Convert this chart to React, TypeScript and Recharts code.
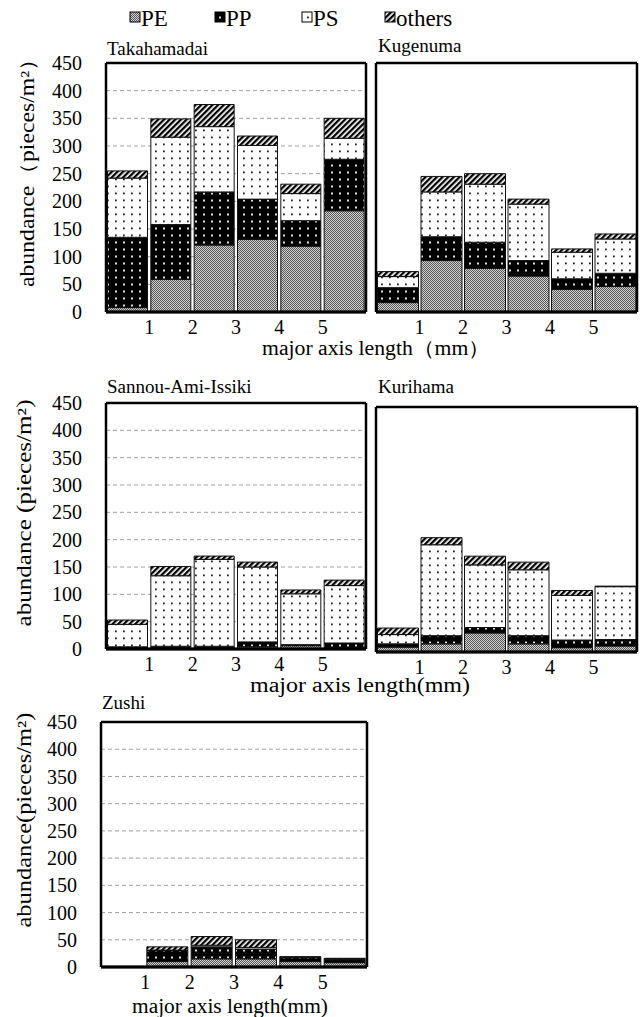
import { Bar, BarChart, CartesianGrid, ReferenceLine, XAxis, YAxis } from 'recharts'

const SERIF = "'Liberation Serif', 'Times New Roman', serif"

const sizeClasses = ['<1', '1-2', '2-3', '3-4', '4-5', '>5']
// labels printed at the class boundaries (right edge of each class except the last)
const boundaryLabels = ['1', '2', '3', '4', '5']
const abundanceTicks = [0, 50, 100, 150, 200, 250, 300, 350, 400, 450]

const takahamadaiPE = [8, 59, 121, 131, 119, 183]
const takahamadaiPP = [127, 99, 96, 73, 46, 93]
const takahamadaiPS = [107, 158, 118, 97, 49, 38]
const takahamadaiOthers = [13, 33, 40, 17, 17, 36]

const kugenumaPE = [17, 93, 79, 65, 41, 46]
const kugenumaPP = [27, 43, 47, 28, 19, 24]
const kugenumaPS = [20, 81, 105, 102, 48, 62]
const kugenumaOthers = [9, 28, 19, 9, 6, 9]

const sannouPE = [2, 2, 2, 4, 6, 3]
const sannouPP = [2, 3, 3, 9, 2, 8]
const sannouPS = [41, 129, 159, 137, 93, 105]
const sannouOthers = [8, 17, 6, 9, 7, 10]

const kurihamaPE = [9, 15, 35, 15, 8, 11]
const kurihamaPP = [6, 15, 10, 15, 14, 12]
const kurihamaPS = [17, 167, 115, 121, 82, 97]
const kurihamaOthers = [12, 13, 16, 14, 9, 1]

const zushiPE = [0, 10, 15, 15, 10, 8]
const zushiPP = [1, 20, 22, 18, 7, 6]
const zushiPS = [0, 1, 3, 3, 1, 1]
const zushiOthers = [0, 6, 16, 14, 1, 1]

const series = [
  { key: 'PE', pattern: 'pat-pe' },
  { key: 'PP', pattern: 'pat-pp' },
  { key: 'PS', pattern: 'pat-ps' },
  { key: 'others', pattern: 'pat-others' },
]

function rowsOf(pe: number[], pp: number[], ps: number[], others: number[]) {
  return sizeClasses.map((size, i) => ({ size, PE: pe[i], PP: pp[i], PS: ps[i], others: others[i] }))
}

const frameLine = { stroke: '#000', strokeWidth: 2.5 }
const tickStyle = { fill: '#000', fontSize: 20, fontFamily: SERIF }

// draws the label half a band to the right, i.e. on the boundary between classes
function BoundaryTick(props: any) {
  const { x, y, payload, index, width } = props
  const label = boundaryLabels[index]
  if (label === undefined) return null
  const half = payload?.offset ?? (width ? width / sizeClasses.length / 2 : 0)
  return (
    <text x={x + half} y={y + 14} textAnchor="middle" fill="#000" fontSize={20} fontFamily={SERIF}>
      {label}
    </text>
  )
}

type PanelProps = {
  rows: ReturnType<typeof rowsOf>
  left: number
  top: number
  width: number
  height: number
  axisWidth: number
  showTicks: boolean
  right: number
}

function Panel({ rows, left, top, width, height, axisWidth, showTicks, right }: PanelProps) {
  return (
    <div style={{ position: 'absolute', left, top }}>
      <BarChart
        width={width}
        height={height}
        data={rows}
        margin={{ top: 12, right, bottom: 0, left: 0 }}
        barCategoryGap={1.5}
      >
        <CartesianGrid vertical={false} stroke="#a0a0a0" strokeDasharray="4 3" />
        <XAxis
          dataKey="size"
          interval={0}
          height={30}
          tickLine={false}
          axisLine={frameLine}
          tick={<BoundaryTick />}
        />
        <XAxis
          xAxisId="top"
          dataKey="size"
          orientation="top"
          height={1}
          tick={false}
          tickLine={false}
          axisLine={frameLine}
        />
        <YAxis
          domain={[0, 450]}
          ticks={abundanceTicks}
          interval={0}
          width={axisWidth}
          tick={showTicks ? tickStyle : false}
          tickLine={false}
          tickSize={0}
          tickMargin={24}
          axisLine={frameLine}
        />
        <YAxis
          yAxisId="r"
          orientation="right"
          domain={[0, 450]}
          width={1}
          tick={false}
          tickLine={false}
          axisLine={frameLine}
        />
        {series.map((s) => (
          <Bar
            key={s.key}
            dataKey={s.key}
            stackId="a"
            fill={`url(#${s.pattern})`}
            stroke="#111"
            strokeWidth={1}
            isAnimationActive={false}
          />
        ))}
        <ReferenceLine y={0} stroke="#000" strokeWidth={3} />
      </BarChart>
    </div>
  )
}

function Patterns() {
  return (
    <svg width={0} height={0} style={{ position: 'absolute' }}>
      <defs>
        <pattern id="pat-pe" width={2} height={2} patternUnits="userSpaceOnUse">
          <rect width={2} height={2} fill="#d4d4d4" />
          <rect width={1} height={1} fill="#555" />
          <rect x={1} y={1} width={1} height={1} fill="#555" />
        </pattern>
        <pattern id="pat-pp" width={8} height={7} patternUnits="userSpaceOnUse">
          <rect width={8} height={7} fill="#000" />
          <rect x={3} y={2.5} width={2} height={2} fill="#ddd" />
        </pattern>
        <pattern id="pat-ps" width={8} height={7} patternUnits="userSpaceOnUse">
          <rect width={8} height={7} fill="#fff" />
          <rect x={3} y={2.5} width={1.8} height={1.8} fill="#222" />
        </pattern>
        <pattern id="pat-others" width={4} height={4} patternUnits="userSpaceOnUse" patternTransform="rotate(45)">
          <rect width={4} height={4} fill="#fff" />
          <rect width={2.3} height={4} fill="#000" />
        </pattern>
      </defs>
    </svg>
  )
}

const legendItems = [
  { label: 'PE', pattern: 'pat-pe', x: 130 },
  { label: 'PP', pattern: 'pat-pp', x: 215 },
  { label: 'PS', pattern: 'pat-ps', x: 302 },
  { label: 'others', pattern: 'pat-others', x: 385 },
]

function VLabel({ cx, cy, length, text }: { cx: number; cy: number; length: number; text: string }) {
  return (
    <text
      x={cx}
      y={cy}
      transform={`rotate(-90 ${cx} ${cy})`}
      textAnchor="middle"
      dominantBaseline="central"
      textLength={length}
      lengthAdjust="spacingAndGlyphs"
      fontSize={20}
    >
      {text}
    </text>
  )
}

export default function App() {
  return (
    <div style={{ position: 'absolute', left: 0, top: 0, width: 640, height: 1017, background: '#fff', fontFamily: SERIF }}>
      <Patterns />
      <Panel rows={rowsOf(takahamadaiPE, takahamadaiPP, takahamadaiPS, takahamadaiOthers)} left={0} top={50} width={370} height={292} axisWidth={106} showTicks right={3} />
      <Panel rows={rowsOf(kugenumaPE, kugenumaPP, kugenumaPS, kugenumaOthers)} left={370} top={50} width={270} height={292} axisWidth={6} showTicks={false} right={2} />
      <Panel rows={rowsOf(sannouPE, sannouPP, sannouPS, sannouOthers)} left={0} top={390} width={370} height={289} axisWidth={106} showTicks right={3} />
      <Panel rows={rowsOf(kurihamaPE, kurihamaPP, kurihamaPS, kurihamaOthers)} left={370} top={394} width={270} height={288} axisWidth={6} showTicks={false} right={2} />
      <Panel rows={rowsOf(zushiPE, zushiPP, zushiPS, zushiOthers)} left={0} top={709} width={370} height={288} axisWidth={101} showTicks right={2} />

      <svg width={640} height={1017} style={{ position: 'absolute', left: 0, top: 0, pointerEvents: 'none' }} fontFamily={SERIF} fill="#000">
        {legendItems.map((it) => (
          <g key={it.label}>
            <rect x={it.x} y={12} width={10} height={10} fill={`url(#${it.pattern})`} stroke="#000" strokeWidth={1} />
            <text x={it.x + 11} y={26} fontSize={23}>{it.label}</text>
          </g>
        ))}
        <text x={107} y={55} fontSize={19}>Takahamadai</text>
        <text x={378} y={52} fontSize={19}>Kugenuma</text>
        <text x={107} y={393} fontSize={19}>Sannou-Ami-Issiki</text>
        <text x={378} y={393} fontSize={19}>Kurihama</text>
        <text x={102} y={709} fontSize={19}>Zushi</text>

        <VLabel cx={27} cy={167} length={240} text="abundance（pieces/m²）" />
        <VLabel cx={24} cy={513} length={227} text="abundance (pieces/m²)" />
        <VLabel cx={24} cy={820} length={215} text="abundance(pieces/m²)" />

        <text x={262} y={355} fontSize={20} textLength={228} lengthAdjust="spacingAndGlyphs">major axis length（mm）</text>
        <text x={250} y={692} fontSize={20} textLength={220} lengthAdjust="spacingAndGlyphs">major axis length(mm)</text>
        <text x={132} y={1013} fontSize={20} textLength={196} lengthAdjust="spacingAndGlyphs">major axis length(mm)</text>
      </svg>
    </div>
  )
}
